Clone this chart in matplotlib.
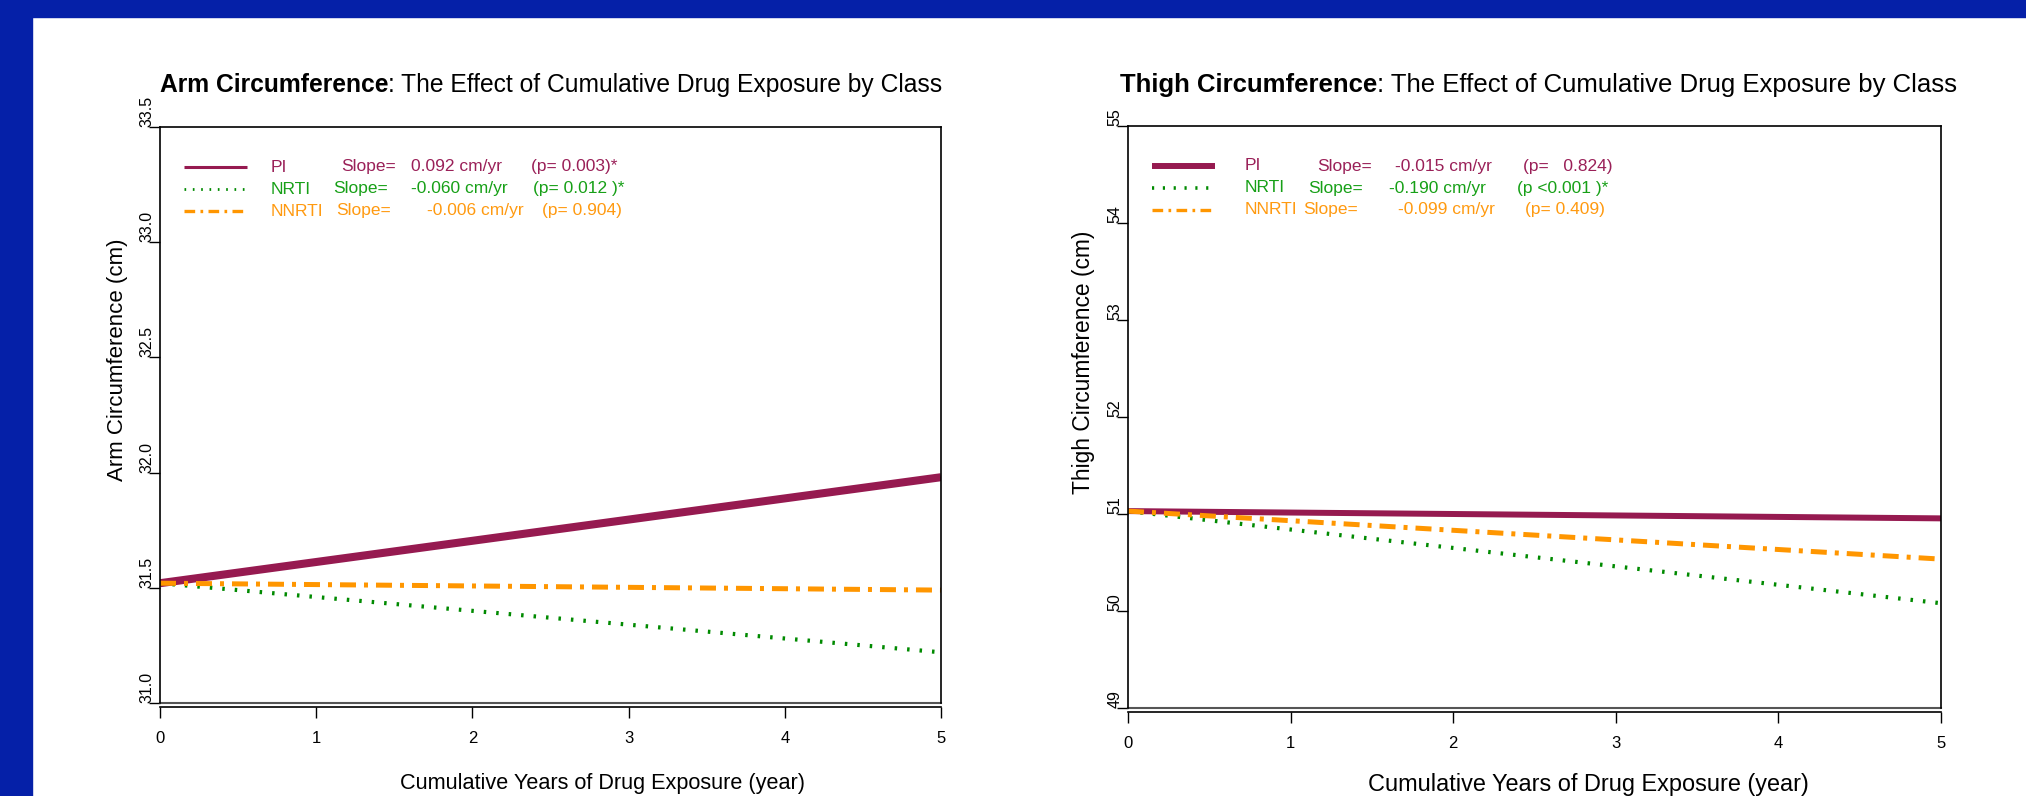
import matplotlib.pyplot as plt
from matplotlib.patches import Rectangle

plt.rcParams['font.family'] = ['Liberation Sans', 'DejaVu Sans']

W, H = 2026, 796

# regression lines over 0..5 years of exposure
years = [0, 5]
classes = ['PI', 'NRTI', 'NNRTI']

arm_pi = [31.52, 31.98]
arm_nrti = [31.52, 31.22]
arm_nnrti = [31.52, 31.49]
arm_slopes = ['0.092', '-0.060', '-0.006']
arm_pvals = ['(p= 0.003)*', '(p= 0.012 )*', '(p= 0.904)']
arm_yticks = [31.0, 31.5, 32.0, 32.5, 33.0, 33.5]

thigh_pi = [51.03, 50.955]
thigh_nrti = [51.03, 50.08]
thigh_nnrti = [51.03, 50.535]
thigh_slopes = ['-0.015', '-0.190', '-0.099']
thigh_pvals = ['(p=   0.824)', '(p <0.001 )*', '(p= 0.409)']
thigh_yticks = [49, 50, 51, 52, 53, 54, 55]

line_colors = ['#961a50', '#008a00', '#ff9600']
text_colors = ['#9a2058', '#17a017', '#ff9a10']

fig = plt.figure(figsize=(W / 100, H / 100), dpi=100)
fig.patch.set_facecolor('white')
# blue slide frame along the top and left edges
fig.patches.append(Rectangle((0, 0), 32 / W, 1, transform=fig.transFigure,
                             color='#0520a8', zorder=0))
fig.patches.append(Rectangle((0, 1 - 17 / H), 1, 17 / H, transform=fig.transFigure,
                             color='#0520a8', zorder=0))


def make_axes(box):
    x0, y0, x1, y1 = box
    return fig.add_axes([x0 / W, 1 - y1 / H, (x1 - x0) / W, (y1 - y0) / H])


def draw_panel(ax, box, series, lws, ylim, yticks, ylabels, slopes, pvals,
               legend_lw, cols):
    x0, y0, x1, y1 = box
    w, h = x1 - x0, y1 - y0

    def frac(px, py):
        return (px / w, 1 - py / h)

    styles = [dict(linestyle='-'),
              dict(linestyle=(0, (0.6, 2.4))),
              dict(linestyle=(0, (3.2, 1.6, 0.8, 1.6)))]
    for vals, c, lw, st in zip(series, line_colors, lws, styles):
        ax.plot(years, vals, color=c, lw=lw, solid_capstyle='butt',
                dash_capstyle='butt', **st)

    ax.set_xlim(0, 5)
    ax.set_ylim(*ylim)
    ax.set_xticks(range(6))
    ax.set_yticks(yticks)
    ax.set_yticklabels(ylabels)
    ax.tick_params(axis='x', length=8, width=1, pad=9, labelsize=12)
    ax.tick_params(axis='y', length=8, width=1, pad=-4, labelsize=11.5)
    for lab in ax.get_yticklabels():
        lab.set_rotation(90)
        lab.set_va('bottom')
    for sp in ax.spines.values():
        sp.set_linewidth(1.2)
    ax.spines['bottom'].set_position(('outward', 3))
    ax.axhline(ylim[0], color='#555555', lw=1.5, clip_on=False)

    # hand-built legend with slope estimates
    rows = [40, 62, 84]
    for i, name in enumerate(classes):
        yy = rows[i]
        ax.plot([frac(24, 0)[0], frac(87, 0)[0]], [frac(0, yy)[1]] * 2,
                transform=ax.transAxes, color=line_colors[i],
                lw=legend_lw[i], clip_on=False, solid_capstyle='butt',
                **styles[i])
        for xp, s in zip(cols[i], [name, 'Slope=', slopes[i] + ' cm/yr', pvals[i]]):
            ax.text(*frac(xp, yy), s, transform=ax.transAxes, color=text_colors[i],
                    fontsize=12.5, va='center', ha='left')


arm_box = (160, 127, 941, 703)
thigh_box = (1128, 126, 1941, 708)
ax1 = make_axes(arm_box)
ax2 = make_axes(thigh_box)

draw_panel(ax1, arm_box, [arm_pi, arm_nrti, arm_nnrti], [5.8, 3.0, 3.6],
           (31.0, 33.5), arm_yticks, ['%.1f' % v for v in arm_yticks],
           arm_slopes, arm_pvals, [2.2, 2.0, 2.4],
           [[111, 181, 251, 371], [111, 173, 251, 373], [111, 176, 267, 382]])
draw_panel(ax2, thigh_box, [thigh_pi, thigh_nrti, thigh_nnrti], [4.3, 3.0, 3.6],
           (49, 55), thigh_yticks, [str(v) for v in thigh_yticks],
           thigh_slopes, thigh_pvals, [4.3, 2.6, 2.4],
           [[117, 189, 267, 395], [117, 180, 261, 389], [117, 175, 270, 397]])


def title(x, y, bold, rest, size):
    t = fig.text(x / W, 1 - y / H, bold, fontsize=size, fontweight='bold',
                 va='baseline', ha='left')
    plt.annotate(rest, xy=(1, 0), xycoords=t, fontsize=size,
                 va='bottom', ha='left')


title(160, 92, 'Arm Circumference', ': The Effect of Cumulative Drug Exposure by Class', 17.7)
title(1120, 92, 'Thigh Circumference', ': The Effect of Cumulative Drug Exposure by Class', 18.5)

fig.text(117 / W, 1 - 360 / H, 'Arm Circumference (cm)', rotation=90,
         fontsize=16, ha='center', va='center')
fig.text(1083 / W, 1 - 362 / H, 'Thigh Circumference (cm)', rotation=90,
         fontsize=16.4, ha='center', va='center')
fig.text(602 / W, 1 - 783 / H, 'Cumulative Years of Drug Exposure (year)',
         fontsize=15.6, ha='center', va='center')
fig.text(1588 / W, 1 - 785 / H, 'Cumulative Years of Drug Exposure (year)',
         fontsize=16.9, ha='center', va='center')

fig.savefig('out.png', dpi=100, facecolor='white')
